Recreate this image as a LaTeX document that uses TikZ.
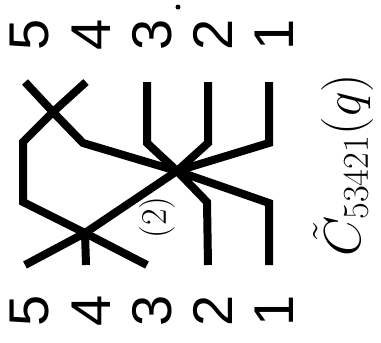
\RequirePackage{fix-cm}
\documentclass[tikz,border=0pt]{standalone}
\usepackage{fontspec}
\newfontfamily\digitfont{Liberation Sans}
\usetikzlibrary{positioning}
\begin{document}
\begin{tikzpicture}[x=0.5pt,y=-0.5pt,s/.style={line width=4pt},n/.style={font=\digitfont\fontsize{28}{30}\selectfont,rotate=90,inner sep=0pt}]
\useasboundingbox (0,0) rectangle (381,343);
\foreach \i/\x in {5/30,4/91,3/152,2/213,1/274}{
\node[n](top\i) at (\x,35){\i};
\node[n](bot\i) at (\x,311){\i};
\coordinate(a\i) at (\x-5,82);
\coordinate(b\i) at (\x-5,265);
}
\node[fill,circle,inner sep=0pt,minimum size=2.5pt](dot) at (178,7){};
\coordinate(x) at (53,112);
\coordinate(m) at (177,171);
\coordinate(l) at (85,233);
\coordinate(p5) at (83,143);
\coordinate(p4) at (23,142);
\coordinate(q4) at (23,202);
\draw[s](a5)--(x)--(p5)--(m)--(269,203)--(b1);
\draw[s](a4)--(x)--(p4)--(q4)--(l)--(b3);
\draw[s](a3)--++(0,61)--(m)--(207,202)--(b2);
\draw[s](a2)--++(0,61)--(m);
\draw[s](a1)--++(0,61)--(m);
\draw[s](m)--node[pos=.22,yshift=-16.5pt,rotate=90,font=\fontsize{18}{20}\selectfont]{$(2)$}(l);
\draw[s](l)--(b5);
\draw[s](l)--(b4);
\node[rotate=90,font=\fontsize{26}{28}\selectfont](c) at (343,165){$\tilde{C}_{53421}(q)$};
\end{tikzpicture}
\end{document}
